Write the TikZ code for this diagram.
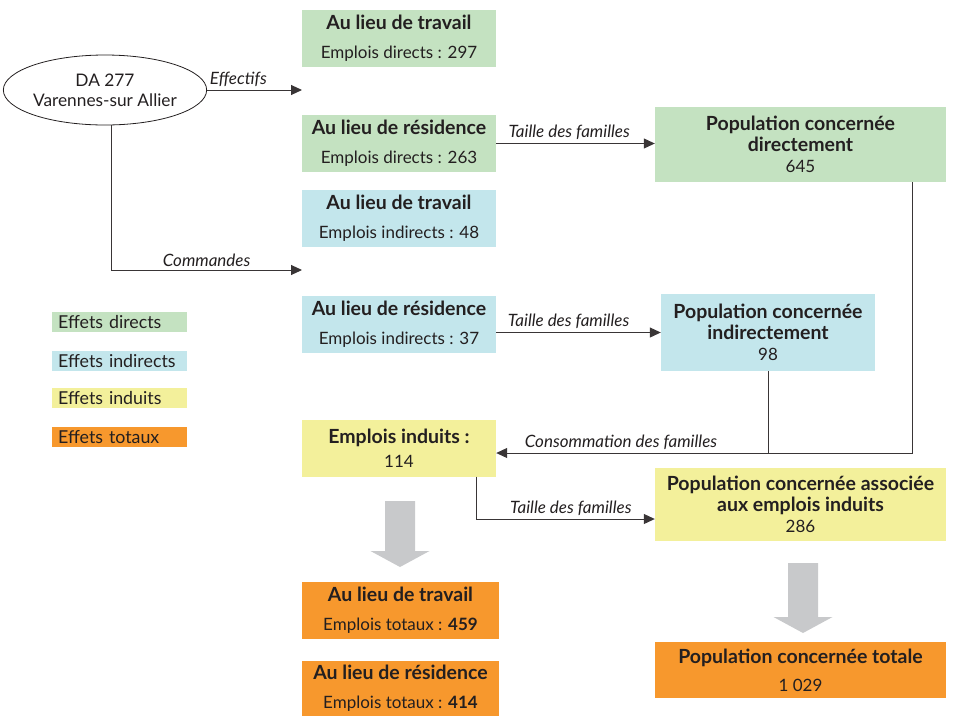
\documentclass[tikz,border=0pt]{standalone}
\usepackage{fontspec}
\setmainfont{Lato}
\usepackage{tikz}
\usetikzlibrary{arrows.meta,calc,shapes}
\definecolor{direct}{HTML}{C4E2C1}
\definecolor{indirect}{HTML}{C3E6EC}
\definecolor{induit}{HTML}{F3F09B}
\definecolor{total}{HTML}{F7982D}
\definecolor{arrowgray}{HTML}{C8C9CB}
\definecolor{ink}{HTML}{231F20}
\tikzstyle{effbox}=[rectangle, inner sep=0pt, align=center, text=ink, font=\fontsize{17}{19}\selectfont]
\tikzstyle{lieu}=[effbox, minimum width=194pt, minimum height=57pt]
\tikzstyle{popbox}=[effbox, minimum width=291pt, font=\fontsize{17}{21}\selectfont]
\tikzstyle{legend}=[rectangle, anchor=west, minimum width=135pt, minimum height=20pt, text width=123pt, inner xsep=6pt, inner ysep=0pt, align=left, text=ink, font=\fontsize{17.8}{19}\selectfont]
\tikzstyle{flow}=[line width=1pt, draw=ink!90, -{Triangle[length=11pt,width=10pt]}]
\tikzstyle{flowlabel}=[above, inner sep=3pt, text=ink, font=\fontsize{17}{19}\selectfont\itshape]
\newcommand{\titre}[1]{{\fontsize{19.5}{21}\selectfont\bfseries #1}}
\newcommand{\bigarrow}[3]{
 \fill[arrowgray] (#1-15,#2) -- (#1+15,#2) -- (#1+15,#3-16) -- (#1+29.5,#3-16) -- (#1,#3) -- (#1-29.5,#3-16) -- (#1-15,#3-16) -- cycle;
}

\begin{document}
\begin{tikzpicture}[x=1pt, y=-1pt]
 \useasboundingbox (0,0) rectangle (955,716);
%
 \node[ellipse, draw=ink, line width=0.8pt, minimum width=182pt, minimum height=70pt, inner sep=0pt, align=center, text=ink, font=\fontsize{17.3}{20}\selectfont] (da) at (105,90) {DA 277\\Varennes-sur Allier};
 \coordinate (eff) at (302,90);
 \coordinate (cmd) at (302,270);
%
 \node[lieu, fill=direct] (travD) at (399,38.5) {\titre{Au lieu de travail}\\[10pt]Emplois directs : 297};
 \node[lieu, fill=direct] (resD) at (399,143.5) {\titre{Au lieu de résidence}\\[10pt]Emplois directs : 263};
 \node[lieu, fill=indirect] (travI) at (399,218.5) {\titre{Au lieu de travail}\\[10pt]Emplois indirects : 48};
 \node[lieu, fill=indirect] (resI) at (399,324) {\titre{Au lieu de résidence}\\[10pt]Emplois indirects : 37};
 \node[lieu, fill=induit] (induits) at (399,448) {\titre{Emplois induits :}\\[5pt]114};
 \node[lieu, fill=total, minimum width=197pt] (travT) at (400.5,610.5) {\titre{Au lieu de travail}\\[10pt]Emplois totaux : \textbf{459}};
 \node[lieu, fill=total, minimum width=197pt, minimum height=55pt] (resT) at (400.5,688.5) {\titre{Au lieu de résidence}\\[10pt]Emplois totaux : \textbf{414}};
%
 \node[popbox, fill=direct, minimum height=75pt] (popD) at (800.5,144.5) {\titre{Population concernée}\\\titre{directement}\\645};
 \node[popbox, fill=indirect, minimum width=214pt, minimum height=77pt] (popI) at (768,332.5) {\titre{Population concernée}\\\titre{indirectement}\\98};
 \node[popbox, fill=induit, minimum height=73pt] (popA) at (800.5,504.5) {\titre{Population concernée associée}\\\titre{aux emplois induits}\\286};
 \node[popbox, fill=total, minimum height=56pt] (popT) at (800.5,670) {\titre{Population concernée totale}\\[7pt]1 029};
%
 \node[legend, fill=direct] (legD) at (52,322) {Effets directs};
 \node[legend, fill=indirect] (legI) at (52,361) {Effets indirects};
 \node[legend, fill=induit] (legN) at (52,398) {Effets induits};
 \node[legend, fill=total] (legT) at (52,437) {Effets totaux};
%
 \coordinate (consin) at ([yshift=-5pt]induits.east);
 \coordinate (popAin) at ([yshift=-14.5pt]popA.west);
 \draw[flow] (da.east) -- node[flowlabel, pos=0.33] {Effectifs} (eff);
 \draw[flow] (da.-80) |- node[flowlabel, pos=0.75] {Commandes} (cmd);
 \draw[flow] (resD.east) -- node[flowlabel, pos=0.46] {Taille des familles} (resD.east -| popD.west);
 \draw[flow] (popI.west -| resI.east) -- node[flowlabel, pos=0.44] {Taille des familles} (popI.west);
 \draw[flow] ([xshift=-34pt]popD.south east) |- node[flowlabel, pos=0.85] {Consommation des familles} (consin);
 \draw[flow, -] (popI.south) -- (popI.south |- consin);
 \draw[flow] ([xshift=-20pt]induits.south east) |- node[flowlabel, pos=0.765] {Taille des familles} (popAin);
%
 \bigarrow{400}{501}{567}
 \bigarrow{803}{563}{633}
\end{tikzpicture}
\end{document}
